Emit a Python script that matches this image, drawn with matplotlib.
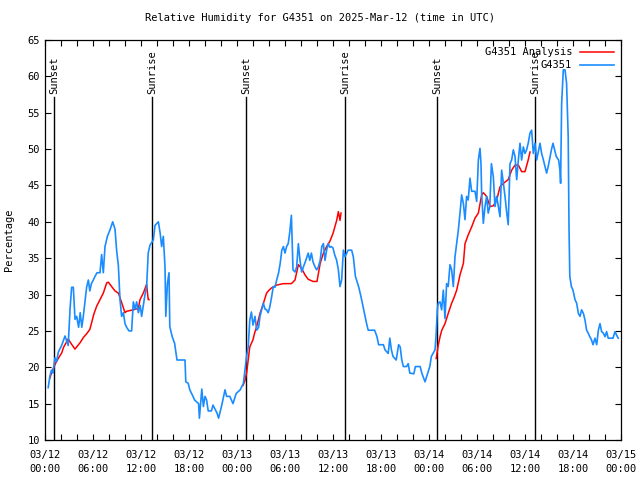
import matplotlib
matplotlib.use('Agg')
import matplotlib.pyplot as plt
import matplotlib.dates as mdates
import numpy as np
import pandas as pd

plt.rcParams['font.family'] = 'DejaVu Sans Mono'
plt.rcParams['font.size'] = 7.5

start = pd.Timestamp('2025-03-12 00:00')

# observed RH (hours since 03/12 00:00 UTC, percent)
obs_hours = [0.4, 0.6, 0.8, 1.0, 1.25, 1.45, 1.67, 2.08, 2.5, 2.9, 3.13, 3.33, 3.54, 3.75, 3.96,
             4.2, 4.4, 4.6, 4.79, 5.0, 5.2, 5.42, 5.6, 5.8, 6.04, 6.25, 6.5, 6.875, 7.08, 7.29,
             7.5, 7.8, 8.125, 8.46, 8.75, 8.96, 9.17, 9.375, 9.58, 9.8, 10.0, 10.2, 10.5, 10.83,
             11.04, 11.25, 11.46, 11.67, 11.9, 12.08, 12.5, 12.7, 12.9, 13.125, 13.54, 13.75,
             14.17, 14.4, 14.58, 14.79, 15.0, 15.1, 15.3, 15.5, 15.6, 15.9, 16.2, 16.5, 17.0,
             17.5, 17.6, 17.9, 18.1, 18.5, 18.7, 19.2, 19.3, 19.6, 19.8, 20.0, 20.2, 20.4, 20.8,
             21.0, 21.5, 21.7, 22.1, 22.5, 22.7, 23.1, 23.5, 23.9, 24.4, 24.8, 25.0, 25.2, 25.4,
             25.6, 25.8, 26.0, 26.25, 26.46, 26.7, 26.875, 27.08, 27.3, 27.5, 27.7, 27.9, 28.1,
             28.3, 28.54, 28.75, 28.96, 29.2, 29.4, 29.6, 29.8, 30.0, 30.2, 30.4, 30.6, 30.8,
             31.0, 31.25, 31.46, 31.67, 31.875, 32.08, 32.3, 32.6, 32.9, 33.1, 33.3, 33.5, 33.75,
             33.96, 34.17, 34.4, 34.6, 34.8, 35.0, 35.2, 35.4, 35.6, 35.8, 36.0, 36.2, 36.46,
             36.67, 36.875, 37.08, 37.3, 37.5, 37.9, 38.33, 38.54, 38.8, 39.2, 39.5, 39.8, 40.0,
             40.2, 40.4, 41.2, 41.5, 41.7, 42.3, 42.5, 42.9, 43.1, 43.3, 43.5, 43.9, 44.2, 44.4,
             44.6, 44.8, 45.2, 45.4, 45.6, 46.1, 46.3, 46.9, 47.1, 47.5, 47.7, 48.1, 48.3, 48.75,
             48.875, 49.04, 49.15, 49.375, 49.58, 49.79, 50.0, 50.2, 50.4, 50.625, 50.83, 51.04,
             51.25, 51.46, 51.67, 51.875, 52.08, 52.3, 52.5, 52.7, 52.9, 53.125, 53.33, 53.75,
             53.96, 54.17, 54.375, 54.5, 54.58, 54.79, 55.0, 55.2, 55.4, 55.6, 55.8, 56.04, 56.25,
             56.46, 56.875, 57.08, 57.3, 57.5, 57.7, 57.9, 58.125, 58.33, 58.54, 58.75, 58.96,
             59.17, 59.375, 59.58, 59.79, 60.0, 60.2, 60.4, 60.625, 60.83, 61.04, 61.25, 61.46,
             61.875, 62.08, 62.3, 62.7, 62.9, 63.3, 63.5, 63.9, 64.2, 64.375, 64.45, 64.58, 64.79,
             65.0, 65.2, 65.4, 65.5, 65.6, 65.8, 66.0, 66.25, 66.46, 66.67, 66.875, 67.08, 67.3,
             67.5, 67.7, 67.9, 68.1, 68.3, 68.5, 68.75, 68.96, 69.17, 69.375, 69.58, 69.79, 70.0,
             70.2, 70.4, 71.0, 71.25, 71.46, 71.65]
obs_rh = [17.2, 18.7, 19.6, 19.2, 21.3, 20.8, 22.1, 23.0, 24.3, 23.0, 28.0, 31.0, 31.0, 26.6, 27.0,
          25.5, 27.5, 25.5, 27.0, 29.0, 31.0, 32.0, 30.5, 31.5, 32.0, 32.5, 33.0, 33.0, 35.5, 33.0,
          36.6, 38.0, 38.9, 40.0, 39.0, 36.0, 34.0, 29.3, 27.0, 27.5, 26.0, 25.5, 25.0, 25.0,
          29.0, 28.0, 29.0, 27.5, 28.5, 27.0, 30.0, 31.0, 35.7, 36.8, 37.5, 39.5,
          40.0, 38.4, 36.6, 38.0, 33.8, 27.0, 31.5, 33.0, 25.6, 24.2, 23.3, 21.0, 21.0,
          21.0, 18.0, 17.8, 16.9, 16.0, 15.5, 15.0, 13.0, 17.0, 14.6, 16.0, 15.5, 14.0, 14.0,
          14.8, 13.7, 13.0, 14.8, 16.9, 16.0, 16.0, 15.0, 16.4, 16.9, 17.8, 19.6, 21.5, 22.8,
          26.5, 27.6, 25.8, 27.0, 25.1, 25.5, 27.0, 27.9, 28.8, 28.0, 27.9, 27.5, 28.3,
          29.5, 31.1, 31.0, 32.0, 33.0, 34.3, 36.1, 36.6, 35.7, 36.6, 37.0, 38.6, 40.9,
          33.4, 33.1, 33.8, 37.0, 34.7, 33.1, 33.8, 34.7, 35.7, 34.7, 35.7, 34.5, 33.8,
          33.4, 33.8, 34.7, 36.6, 37.0, 34.7, 36.1, 37.0, 36.5, 36.6, 36.4, 35.5, 34.7,
          33.4, 31.1, 32.0, 36.1, 35.2, 36.1, 36.1, 35.2, 32.5, 31.1, 29.7, 28.1, 27.0,
          26.0, 25.1, 25.1, 24.2, 23.1, 23.1, 22.4, 21.9, 24.0, 22.4, 21.5, 21.0, 23.1, 22.8,
          21.0, 20.1, 20.1, 20.5, 19.2, 19.1, 20.1, 20.1, 19.2, 18.0, 18.7, 20.1, 21.5, 22.4,
          24.2, 27.9, 28.8, 29.0, 27.9, 30.6, 26.7, 31.5, 31.1, 34.1, 33.4, 31.1,
          35.2, 37.0, 38.9, 41.2, 43.7, 42.5, 40.3, 43.5, 43.0, 46.0, 44.2, 44.2,
          42.8, 48.5, 50.1, 48.0, 43.9, 39.8, 42.1, 43.5, 41.2, 42.1, 48.0, 46.2, 42.1,
          43.5, 40.7, 47.1, 45.3, 43.5, 41.4, 39.6, 48.0, 48.5, 49.9, 49.0, 45.8,
          48.5, 50.8, 48.5, 50.3, 49.4, 49.9, 50.8, 52.2, 52.6, 49.4, 50.8, 48.5,
          50.8, 49.4, 48.5, 46.7, 47.6, 49.9, 50.8, 49.0, 48.5, 47.1, 45.3, 56.3, 60.9,
          60.9, 59.0, 51.7, 39.3, 32.5, 31.1, 30.6, 29.3, 28.8, 27.4, 27.0, 27.9, 27.4,
          26.5, 25.1, 24.7, 24.2, 23.8, 23.1, 24.0, 23.1, 25.1, 26.0, 24.9, 24.7, 24.2,
          24.9, 24.0, 24.0, 24.9, 24.4, 24.0]

# analysis RH, three daytime-to-night segments (NaN breaks the line)
ana_hours = [0.6, 0.9, 1.3, 1.7, 2.1, 2.3, 2.9, 3.3, 3.75, 4.4, 4.8, 5.2, 5.6, 5.8, 6.1, 6.46,
             6.875, 7.29, 7.71, 7.92, 8.33, 8.75, 9.17, 9.58, 10.0, 10.2, 11.04, 11.67, 11.875,
             12.29, 12.7, 12.9, 13.0, 13.05,
             24.75, 25.0, 25.2, 25.4, 25.6, 26.0, 26.2, 26.46, 26.875, 27.3, 27.7, 28.0, 28.3,
             28.96, 29.8, 30.8, 31.25, 31.67, 32.08, 32.5, 32.9, 33.5, 34.0, 34.4, 34.8, 35.2,
             35.6, 36.0, 36.46, 36.67, 36.875, 37.0, 37.05,
             48.9, 49.15, 49.4, 49.6, 50.0, 50.4, 50.83, 51.1, 51.46, 51.875, 52.3, 52.5, 52.9,
             53.33, 53.75, 54.17, 54.58, 54.79, 55.2, 55.625, 56.04, 56.46, 56.875, 57.3, 57.9,
             58.33, 58.75, 59.17, 59.58, 60.0, 60.4, 60.625]
ana_rh = [18.5, 19.5, 20.5, 21.3, 22.0, 22.7, 23.9, 23.2, 22.5, 23.4, 24.1, 24.6, 25.2, 26.0, 27.3,
          28.4, 29.3, 30.2, 31.6, 31.7, 31.1, 30.5, 30.2, 28.9, 27.5, 27.7, 27.9, 28.1, 29.3,
          30.2, 31.4, 29.3, 29.3, np.nan,
          17.5, 18.2, 19.2, 21.0, 22.8, 23.8, 24.7, 25.6, 27.4, 28.8, 30.2, 30.6, 30.9,
          31.3, 31.5, 31.5, 32.0, 34.1, 33.6, 32.7, 32.1, 31.8, 31.8, 34.3, 35.7, 36.6,
          37.3, 38.4, 40.2, 41.4, 40.2, 41.2, np.nan,
          21.2, 23.0, 24.3, 25.1, 26.0, 27.4, 28.8, 29.5, 30.6, 32.7, 34.3, 37.0, 38.2,
          39.3, 40.5, 41.2, 43.7, 44.0, 43.5, 42.1, 42.2, 43.0, 44.8, 45.3, 45.8,
          47.1, 47.8, 47.8, 46.9, 46.9, 48.5, 49.6]

sun_hours = [1.125, 13.375, 25.125, 37.5, 49.0, 61.25]
sun_labels = ['Sunset', 'Sunrise', 'Sunset', 'Sunrise', 'Sunset', 'Sunrise']

obs_t = start + pd.to_timedelta(obs_hours, unit='h')
ana_t = start + pd.to_timedelta(ana_hours, unit='h')
sun_t = start + pd.to_timedelta(sun_hours, unit='h')

fig = plt.figure(figsize=(6.4, 4.8), dpi=100)
ax = fig.add_axes([45/640, 40/480, 576/640, 400/480])

for t, lab in zip(sun_t, sun_labels):
    ax.plot([t, t], [10, 57.2], color='black', lw=1.0)
    ax.text(t, 57.6, lab, rotation=90, ha='center', va='bottom', fontsize=7.5)

ax.plot(ana_t, ana_rh, color='#ff0000', lw=1.1, label='G4351 Analysis')
ax.plot(obs_t, obs_rh, color='#1a8cff', lw=1.2, label='G4351')

ax.set_xlim(start, start + pd.Timedelta(hours=72))
ax.set_ylim(10, 65)
ax.set_yticks(np.arange(10, 66, 5))
ax.xaxis.set_major_locator(mdates.HourLocator(byhour=[0, 6, 12, 18]))
ax.xaxis.set_minor_locator(mdates.HourLocator(interval=2))
ax.xaxis.set_major_formatter(mdates.DateFormatter('%m/%d\n%H:%M'))
for lbl in ax.get_xticklabels():
    lbl.set_linespacing(1.5)
ax.tick_params(which='both', direction='in', top=True, right=True, length=4, width=0.8)
ax.tick_params(axis='x', pad=7)
for s in ax.spines.values():
    s.set_linewidth(0.9)

ax.set_ylabel('Percentage', labelpad=10)
fig.text(0.5, 0.962, 'Relative Humidity for G4351 on 2025-Mar-12 (time in UTC)',
         ha='center', va='center', fontsize=7.5)

ax.legend(loc='upper right', frameon=False, markerfirst=False, handlelength=3.2,
          borderaxespad=0.3, labelspacing=0.3, fontsize=7.5)

fig.savefig('out.png', dpi=100)
